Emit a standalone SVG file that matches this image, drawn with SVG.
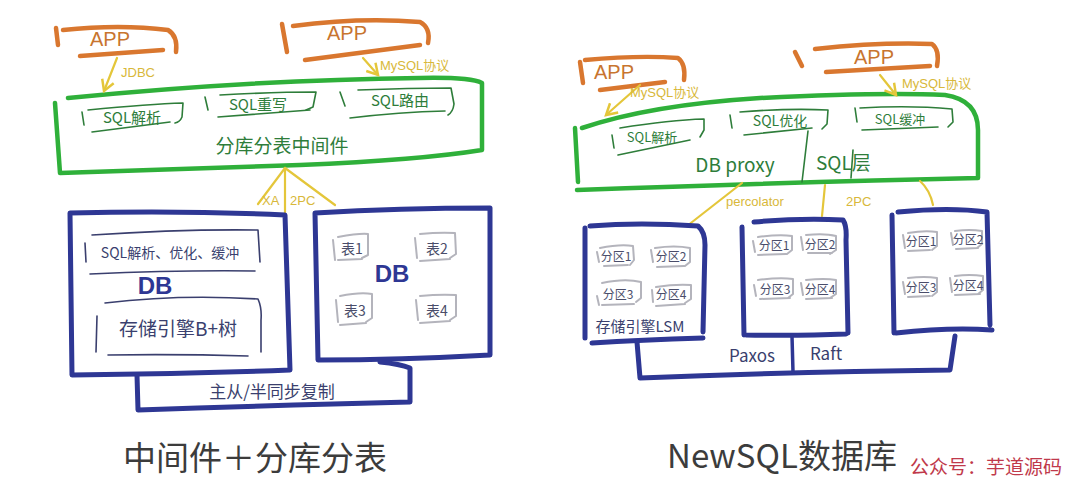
<svg xmlns="http://www.w3.org/2000/svg" width="1080" height="485" viewBox="0 0 1080 485">
<style>
.bg{fill:#ffffff}
.app{fill:none;stroke:#d9772f;stroke-width:4.5;stroke-linecap:round;stroke-linejoin:round}
.appt{fill:#c8752f;font-family:"Liberation Sans","Noto Sans CJK SC",sans-serif;font-size:20px}
.grn{fill:none;stroke:#2fb03a;stroke-width:4.5;stroke-linecap:round;stroke-linejoin:round}
.gin{fill:none;stroke:#2e7d3a;stroke-width:1.6;stroke-linecap:round;stroke-linejoin:round}
.gt{fill:#2e7d3a;font-family:"Noto Sans CJK SC","Liberation Sans",sans-serif;font-size:15px}
.gtb{fill:#2e7d3a;font-family:"Noto Sans CJK SC","Liberation Sans",sans-serif;font-size:19px}
.blu{fill:none;stroke:#2e3794;stroke-width:5;stroke-linecap:round;stroke-linejoin:round}
.bin{fill:none;stroke:#3a3f6e;stroke-width:1.6;stroke-linecap:round;stroke-linejoin:round}
.gry{fill:none;stroke:#b4b4bc;stroke-width:2;stroke-linecap:round;stroke-linejoin:round}
.bt{fill:#3a3f6e;font-family:"Noto Sans CJK SC","Liberation Sans",sans-serif;font-size:16px}
.st{fill:#4a4d6a;font-family:"Noto Sans CJK SC","Liberation Sans",sans-serif;font-size:12px}
.db{fill:#2e3794;font-family:"Liberation Sans","Noto Sans CJK SC",sans-serif;font-size:24px;font-weight:bold}
.yel{fill:none;stroke:#e4c63a;stroke-width:2.2;stroke-linecap:round;stroke-linejoin:round}
.yt{fill:#d8b83a;font-family:"Liberation Sans","Noto Sans CJK SC",sans-serif;font-size:13px}
.title{fill:#3c3c3c;font-family:"Noto Sans CJK SC","Liberation Sans",sans-serif;font-size:33px}
.wm{fill:#c0394b;font-family:"Noto Sans CJK SC","Liberation Sans",sans-serif;font-size:19px}
</style>
<defs>
<marker id="ah" viewBox="0 0 10 10" refX="8" refY="5" markerWidth="7" markerHeight="7" orient="auto-start-reverse">
<path d="M1,1 L8,5 L1,9" fill="none" stroke="#e4c63a" stroke-width="1.6"/>
</marker>
</defs>
<rect class="bg" x="0" y="0" width="1080" height="485"/>

<!-- LEFT SIDE -->
<g id="app-l1">
<path class="app" d="M56,28 L58,45"/>
<path class="app" d="M63,30 Q120,24 168,30 Q178,36 176,52"/>
<path class="app" d="M80,56 L163,50"/>
<text class="appt" x="110" y="46" text-anchor="middle">APP</text>
</g>
<g id="app-l2">
<path class="app" d="M282,24 L287,52"/>
<path class="app" d="M293,26 Q360,17 420,22 Q431,28 428,43"/>
<path class="app" d="M305,60 L420,45"/>
<text class="appt" x="347" y="40" text-anchor="middle">APP</text>
</g>

<g id="mw">
<path class="grn" d="M68,98 Q250,80 420,78 Q470,77 482,83 L482,150 Q420,160 300,165 Q150,170 60,173 L55,103"/>
<g id="sql-parse">
<path class="gin" d="M82,112 L84,125"/>
<path class="gin" d="M88,110 Q150,104 183,103 L182,117 Q180,122 175,123"/>
<path class="gin" d="M92,132 L170,122"/>
<text class="gt" x="132" y="123" text-anchor="middle">SQL解析</text>
</g>
<g id="sql-rewrite">
<path class="gin" d="M205,97 L208,110"/>
<path class="gin" d="M220,95 Q275,92 316,92 L313,107 L306,110"/>
<path class="gin" d="M218,117 L310,110"/>
<text class="gt" x="258" y="110" text-anchor="middle">SQL重写</text>
</g>
<g id="sql-route">
<path class="gin" d="M340,92 L345,106"/>
<path class="gin" d="M358,90 Q410,88 451,88 L454,104 Q453,112 448,115"/>
<path class="gin" d="M350,118 Q400,112 445,111"/>
<text class="gt" x="400" y="106" text-anchor="middle">SQL路由</text>
</g>
<text class="gtb" x="282" y="153" text-anchor="middle">分库分表中间件</text>
</g>

<g id="edges-left">
<path class="yel" d="M117,58 L104,91" marker-end="url(#ah)"/>
<text class="yt" x="121" y="77">JDBC</text>
<path class="yel" d="M363,58 L378,75" marker-end="url(#ah)"/>
<text class="yt" x="380" y="70">MySQL协议</text>
<path class="yel" d="M285,168 L258,204"/>
<path class="yel" d="M285,168 L285,213"/>
<path class="yel" d="M285,168 L335,205"/>
<text class="yt" x="262" y="205">XA</text>
<text class="yt" x="290" y="205">2PC</text>
</g>

<g id="db-left">
<path class="blu" d="M70,213 Q180,210 285,215 L290,370 Q180,374 72,375 Z"/>
<g id="sql-cache">
<path class="bin" d="M85,243 L86,262"/>
<path class="bin" d="M92,235 Q180,229 258,230 L260,262"/>
<path class="bin" d="M90,274 Q180,270 255,271"/>
<text class="bt" x="170" y="258" text-anchor="middle" style="font-size:14px">SQL解析、优化、缓冲</text>
</g>
<text class="db" x="155" y="294" text-anchor="middle">DB</text>
<g id="engine-bplus">
<path class="bin" d="M97,316 L96,352"/>
<path class="bin" d="M105,303 Q180,294 258,299 Q262,308 261,320 L261,352"/>
<path class="bin" d="M108,355 Q180,354 248,356"/>
<text class="bt" x="178" y="336" text-anchor="middle" style="font-size:19px">存储引擎B+树</text>
</g>
</g>

<g id="db-right">
<path class="blu" d="M315,213 Q400,208 490,208 L490,355 Q400,360 318,360 Z"/>
<g id="t1"><path class="gry" d="M333,240 L335,260 M338,237 Q360,233 368,234 L368,255 L362,258 M338,260 L362,259"/><text class="st" x="352" y="254" text-anchor="middle" style="font-size:14px">表1</text></g>
<g id="t2"><path class="gry" d="M415,238 L417,258 M420,234 Q440,232 455,233 L456,254 L450,258 M420,261 L450,259"/><text class="st" x="437" y="254" text-anchor="middle" style="font-size:14px">表2</text></g>
<g id="t3"><path class="gry" d="M336,300 L338,322 M340,296 Q360,292 372,294 L372,318 L366,322 M340,325 L366,323"/><text class="st" x="355" y="316" text-anchor="middle" style="font-size:14px">表3</text></g>
<g id="t4"><path class="gry" d="M416,300 L418,320 M420,296 Q440,294 456,295 L456,316 L450,320 M420,323 L450,321"/><text class="st" x="437" y="316" text-anchor="middle" style="font-size:14px">表4</text></g>
<text class="db" x="392" y="282" text-anchor="middle">DB</text>
</g>

<g id="replication">
<path class="blu" d="M137,375 L138,410 Q280,405 410,402 L410,368 Q400,364 380,362"/>
<text class="bt" x="272" y="398" text-anchor="middle" style="font-size:17px">主从/半同步复制</text>
</g>

<text class="title" x="255" y="470" text-anchor="middle">中间件＋分库分表</text>

<!-- RIGHT SIDE -->
<g id="app-r1">
<path class="app" d="M580,62 L583,83"/>
<path class="app" d="M585,60 Q640,55 678,58 Q686,64 684,80"/>
<path class="app" d="M600,90 L665,82"/>
<text class="appt" x="614" y="79" text-anchor="middle">APP</text>
</g>
<g id="app-r2">
<path class="app" d="M795,52 L802,66"/>
<path class="app" d="M815,49 Q880,42 932,44 Q940,50 937,66"/>
<path class="app" d="M826,72 L930,66"/>
<text class="appt" x="874" y="64" text-anchor="middle">APP</text>
</g>

<g id="proxy">
<path class="grn" d="M582,128 Q650,105 760,98 Q880,92 945,95 Q978,100 978,130 L978,178 Q800,182 577,190"/>
<path class="grn" d="M575,128 L578,182"/>
<g id="r-sql-parse">
<path class="gin" d="M612,135 L614,148"/>
<path class="gin" d="M620,128 Q670,120 704,119 L704,130 L700,137"/>
<path class="gin" d="M618,155 L690,140"/>
<text class="gt" x="652" y="142" text-anchor="middle" style="font-size:13px">SQL解析</text>
</g>
<g id="r-sql-opt">
<path class="gin" d="M730,115 L732,128"/>
<path class="gin" d="M740,112 Q790,108 828,110 L827,124 L822,129"/>
<path class="gin" d="M744,135 L812,128"/>
<text class="gt" x="780" y="126" text-anchor="middle" style="font-size:14px">SQL优化</text>
</g>
<g id="r-sql-cache">
<path class="gin" d="M855,108 L857,122"/>
<path class="gin" d="M860,108 Q910,105 952,109 L953,122 L948,127"/>
<path class="gin" d="M862,130 L938,127"/>
<text class="gt" x="900" y="124" text-anchor="middle" style="font-size:13px">SQL缓冲</text>
</g>
<path class="gin" d="M808,131 L802,182"/>
<path class="gin" d="M853,150 L851,178"/>
<text class="gtb" x="735" y="172" text-anchor="middle">DB proxy</text>
<text class="gtb" x="816" y="170">SQL层</text>
</g>

<g id="edges-right">
<path class="yel" d="M640,85 L606,115" marker-end="url(#ah)"/>
<text class="yt" x="630" y="97">MySQL协议</text>
<path class="yel" d="M880,75 L896,95" marker-end="url(#ah)"/>
<text class="yt" x="902" y="88">MySQL协议</text>
<path class="yel" d="M742,183 L687,226"/>
<path class="yel" d="M825,185 L822,216"/>
<path class="yel" d="M920,181 Q930,190 933,205"/>
<text class="yt" x="726" y="206">percolator</text>
<text class="yt" x="846" y="206">2PC</text>
</g>

<g id="shard1">
<path class="blu" d="M585,228 L585,338 M590,226 Q640,222 698,226 Q705,232 705,245 L703,332 M592,343 Q640,340 703,338"/>
<g><path class="gry" d="M597,252 L599,262 M600,248 Q620,244 633,246 L634,260 L630,265 M604,266 L628,265"/><text class="st" x="616" y="261" text-anchor="middle">分区1</text></g>
<g><path class="gry" d="M651,250 L653,262 M655,248 Q675,245 690,248 L690,262 L685,266 M657,267 L684,266"/><text class="st" x="671" y="261" text-anchor="middle">分区2</text></g>
<g><path class="gry" d="M597,296 L599,305 M602,283 Q625,278 641,282 L641,298 L636,302 M602,305 L634,304"/><text class="st" x="618" y="299" text-anchor="middle">分区3</text></g>
<g><path class="gry" d="M652,290 L653,302 M656,287 Q675,284 691,285 L691,299 L685,303 M656,306 L685,304"/><text class="st" x="671" y="299" text-anchor="middle">分区4</text></g>
<text class="bt" x="640" y="332" text-anchor="middle" style="font-size:15px">存储引擎LSM</text>
</g>

<g id="shard2">
<path class="blu" d="M742,227 L744,335 M754,222 Q800,218 843,220 Q847,226 846,240 L848,333 M746,335 Q800,336 846,334"/>
<g><path class="gry" d="M753,241 L755,252 M758,237 Q780,234 792,236 L792,250 L787,254 M758,255 L786,254"/><text class="st" x="774" y="250" text-anchor="middle">分区1</text></g>
<g><path class="gry" d="M801,237 L803,250 M806,235 Q825,233 836,236 L836,250 L830,254 M808,253 L832,253"/><text class="st" x="820" y="249" text-anchor="middle">分区2</text></g>
<g><path class="gry" d="M754,285 L756,296 M758,280 Q780,277 793,279 L793,294 L788,298 M760,299 L790,298"/><text class="st" x="775" y="294" text-anchor="middle">分区3</text></g>
<g><path class="gry" d="M801,283 L803,295 M806,280 Q825,278 836,280 L836,294 L830,298 M806,299 L832,298"/><text class="st" x="820" y="294" text-anchor="middle">分区4</text></g>
</g>

<g id="shard3">
<path class="blu" d="M892,215 L894,333 M898,212 Q950,207 987,212 L990,325 M896,333 Q950,327 992,330"/>
<g><path class="gry" d="M903,235 L905,248 M908,233 Q925,230 937,232 L937,246 L932,250 M908,251 L930,250"/><text class="st" x="921" y="246" text-anchor="middle">分区1</text></g>
<g><path class="gry" d="M951,233 L953,245 M955,231 Q970,229 982,231 L982,244 L977,248 M956,249 L978,248"/><text class="st" x="968" y="244" text-anchor="middle">分区2</text></g>
<g><path class="gry" d="M903,282 L905,294 M908,278 Q925,276 937,278 L937,292 L932,296 M908,297 L930,296"/><text class="st" x="921" y="292" text-anchor="middle">分区3</text></g>
<g><path class="gry" d="M950,278 L952,292 M955,276 Q970,274 983,276 L983,290 L978,294 M955,295 L980,294"/><text class="st" x="968" y="290" text-anchor="middle">分区4</text></g>
</g>

<g id="consensus">
<path class="blu" d="M637,342 L640,378 Q790,372 950,370 L955,336"/>
<path class="blu" d="M792,336 L793,372" style="stroke-width:3.5"/>
<text class="bt" x="752" y="362" text-anchor="middle" style="font-size:17px">Paxos</text>
<text class="bt" x="826" y="360" text-anchor="middle" style="font-size:17px">Raft</text>
</g>

<text class="title" x="782" y="468" text-anchor="middle">NewSQL数据库</text>
<text class="wm" x="910" y="474">公众号：芋道源码</text>
</svg>
